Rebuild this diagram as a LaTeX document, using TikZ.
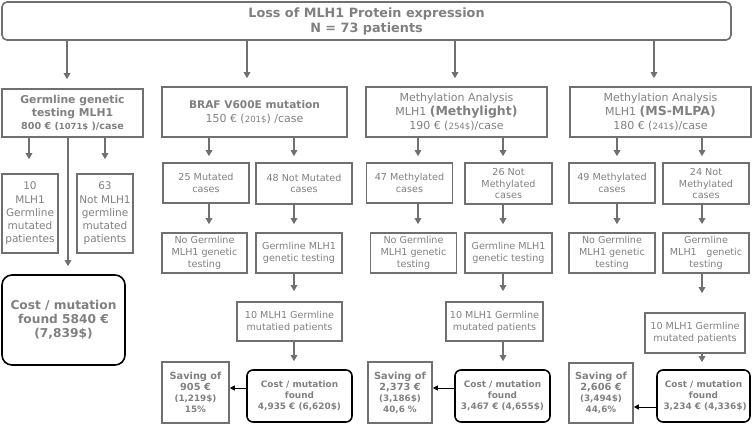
\documentclass[tikz,border=0pt]{standalone}
\usepackage{fontspec}
\setmainfont{DejaVu Sans}
\usetikzlibrary{arrows.meta}
\definecolor{txtc}{RGB}{128,128,128}
\definecolor{bordc}{RGB}{112,112,112}
\tikzset{
  bx/.style={draw=bordc, line width=1.6pt, text=txtc, align=center, inner sep=1pt,
    font=\fontsize{9.6}{11.7}\selectfont},
  hdbx/.style={bx, font=\fontsize{11}{14}\selectfont},
  costbx/.style={draw=black, line width=1.6pt, rounded corners=6pt, text=txtc, align=center,
    inner sep=1pt, font=\bfseries\fontsize{8.9}{11}\selectfont},
  savebx/.style={bx, font=\bfseries\fontsize{9.8}{11}\selectfont},
  arr/.style={draw=bordc, line width=1.6pt, -{Triangle[length=6pt,width=6.5pt]}},
  blkarr/.style={draw=black, line width=1pt, -{Triangle[length=5pt,width=5pt]}},
}
\newcommand{\sm}[1]{{\fontsize{8.6}{10}\selectfont #1}}
\newcommand{\sv}[1]{{\fontsize{8.8}{9}\selectfont #1}}
\begin{document}
\begin{tikzpicture}[x=1pt,y=-1pt]
\useasboundingbox (0,0) rectangle (753,424);
% top
\node[bx, rounded corners=5pt, minimum width=729pt, minimum height=38pt,
  font=\bfseries\fontsize{12.8}{15}\selectfont] (top) at (366.5,21)
  {Loss of MLH1 Protein expression\\N = 73 patients};
% level 2
\node[bx, minimum width=141pt, minimum height=48pt, font=\bfseries\fontsize{10.8}{12.8}\selectfont] (g) at (72.5,113)
  {Germline genetic\\testing MLH1\\{\fontsize{9.6}{12}\selectfont 800 € ({\fontsize{8.4}{10}\selectfont 1071\$} )/case}};
\node[hdbx, minimum width=185pt, minimum height=50pt] (braf) at (254.5,112)
  {\textbf{\fontsize{10.6}{15}\selectfont BRAF V600E mutation}\\150 € (\sm{201\$}) /case};
\node[hdbx, minimum width=181pt, minimum height=50pt] (meth) at (456.5,112)
  {Methylation Analysis\\MLH1 \textbf{\fontsize{12.5}{14}\selectfont(Methylight)}\\190 € (\sm{254\$})/case};
\node[hdbx, minimum width=181pt, minimum height=50pt] (mlpa) at (660.5,112)
  {Methylation Analysis\\MLH1 \textbf{\fontsize{12.5}{14}\selectfont(MS-MLPA)}\\180 € (\sm{241\$})/case};
% germline column
\node[bx, minimum width=56pt, minimum height=79pt, font=\fontsize{10.5}{13.3}\selectfont] (g1) at (30,213.5)
  {10\\MLH1\\Germline\\mutated\\patientes};
\node[bx, minimum width=56pt, minimum height=79pt, font=\fontsize{10.5}{13.3}\selectfont] (g2) at (105,213.5)
  {63\\Not MLH1\\germline\\mutated\\patients};
\node[costbx, rounded corners=10pt, minimum width=123pt, minimum height=90pt,
  font=\bfseries\fontsize{12.2}{14}\selectfont] (gcost) at (63.5,320)
  {Cost / mutation\\found 5840 €\\(7,839\$)};
% BRAF column
\node[bx, minimum width=86pt, minimum height=40pt] (b1) at (206,183) {25 Mutated\\cases};
\node[bx, minimum width=96pt, minimum height=41pt] (b2) at (304,183.5) {48 Not Mutated\\cases};
\node[bx, minimum width=85pt, minimum height=40pt] (b3) at (204.5,253) {No Germline\\MLH1 genetic\\testing};
\node[bx, minimum width=86pt, minimum height=40pt] (b4) at (299,253) {Germline MLH1\\genetic testing};
\node[bx, minimum width=105pt, minimum height=39pt] (b5) at (289.5,321.5) {10 MLH1 Germline\\mutatied patients};
\node[costbx, minimum width=105pt, minimum height=52pt] (b6) at (299.5,396) {Cost / mutation\\found\\4,935 € (6,620\$)};
\node[savebx, minimum width=67pt, minimum height=61pt] (b7) at (195.5,392.5) {Saving of\\905 €\\\sv{(1,219\$)}\\\sv{15\%}};
% Methylight column
\node[bx, minimum width=86pt, minimum height=40pt] (m1) at (409.5,183) {47 Methylated\\cases};
\node[bx, minimum width=87pt, minimum height=41pt] (m2) at (508.5,183.5) {26 Not\\Methylated\\cases};
\node[bx, minimum width=86pt, minimum height=40pt] (m3) at (413.5,253) {No Germline\\MLH1 genetic\\testing};
\node[bx, minimum width=87pt, minimum height=40pt] (m4) at (508.5,253) {Germline MLH1\\genetic testing};
\node[bx, minimum width=97pt, minimum height=39pt] (m5) at (494.5,321.5) {10 MLH1 Germline\\mutated patients};
\node[costbx, minimum width=95pt, minimum height=52pt] (m6) at (502.5,396) {Cost / mutation\\found\\3,467 € (4,655\$)};
\node[savebx, minimum width=64pt, minimum height=61pt] (m7) at (400,392.5) {Saving of\\2,373 €\\\sv{(3,186\$)}\\\sv{40,6 \%}};
% MS-MLPA column
\node[bx, minimum width=86pt, minimum height=40pt] (p1) at (612,183) {49 Methylated\\cases};
\node[bx, minimum width=86pt, minimum height=41pt] (p2) at (706,183.5) {24 Not\\Methylated\\cases};
\node[bx, minimum width=86pt, minimum height=40pt] (p3) at (612,253) {No Germline\\MLH1 genetic\\testing};
\node[bx, minimum width=86pt, minimum height=40pt] (p4) at (706,253) {Germline\\MLH1\quad genetic\\testing};
\node[bx, minimum width=100pt, minimum height=40pt] (p5) at (695,333) {10 MLH1 Germline\\mutated patients};
\node[costbx, minimum width=93pt, minimum height=52pt] (p6) at (703.5,396) {Cost / mutation\\found\\\ 3,234 € (4,336\$)};
\node[savebx, minimum width=64pt, minimum height=60pt] (p7) at (601,393) {Saving of\\2,606 €\\\sv{(3,494\$)}\\\sv{44,6\%}};
% arrows from top
\draw[arr, shorten >=9pt] (top.south -| 67,0) -- (g.north -| 67,0);
\draw[arr, shorten >=8pt] (top.south -| 247,0) -- (braf.north -| 247,0);
\draw[arr, shorten >=8pt] (top.south -| 455,0) -- (meth.north -| 455,0);
\draw[arr, shorten >=8pt] (top.south -| 654,0) -- (mlpa.north -| 654,0);
% germline
\draw[arr, shorten >=14pt] (g.south -| 29,0) -- (g1.north -| 29,0);
\draw[arr, shorten >=14pt] (g.south -| 105,0) -- (g2.north -| 105,0);
\draw[arr, shorten >=8pt] (g.south -| 68,0) -- (gcost.north -| 68,0);
% BRAF
\draw[arr, shorten >=6pt] (braf.south -| 209,0) -- (b1.north -| 209,0);
\draw[arr, shorten >=6pt] (braf.south -| 294,0) -- (b2.north -| 294,0);
\draw[arr, shorten >=8pt] (b1.south -| 209,0) -- (b3.north -| 209,0);
\draw[arr, shorten >=8pt] (b2.south -| 294,0) -- (b4.north -| 294,0);
\draw[arr, shorten >=10pt] (b4.south -| 294,0) -- (b5.north -| 294,0);
\draw[arr, shorten >=8pt] (b5.south -| 294,0) -- (b6.north -| 294,0);
\draw[blkarr] (b6.west |- 0,388) -- (b7.east |- 0,388);
% Methylight
\draw[arr, shorten >=6pt] (meth.south -| 418,0) -- (m1.north -| 418,0);
\draw[arr, shorten >=6pt] (meth.south -| 503,0) -- (m2.north -| 503,0);
\draw[arr, shorten >=8pt] (m1.south -| 418,0) -- (m3.north -| 418,0);
\draw[arr, shorten >=8pt] (m2.south -| 503,0) -- (m4.north -| 503,0);
\draw[arr, shorten >=10pt] (m4.south -| 503,0) -- (m5.north -| 503,0);
\draw[arr, shorten >=8pt] (m5.south -| 503,0) -- (m6.north -| 503,0);
\draw[blkarr] (m6.west |- 0,388) -- (m7.east |- 0,388);
% MS-MLPA
\draw[arr, shorten >=6pt] (mlpa.south -| 617,0) -- (p1.north -| 617,0);
\draw[arr, shorten >=6pt] (mlpa.south -| 702,0) -- (p2.north -| 702,0);
\draw[arr, shorten >=8pt] (p1.south -| 617,0) -- (p3.north -| 617,0);
\draw[arr, shorten >=8pt] (p2.south -| 702,0) -- (p4.north -| 702,0);
\draw[arr, shorten >=19pt] (p4.south -| 702,0) -- (p5.north -| 702,0);
\draw[arr, shorten >=7pt] (p5.south -| 702,0) -- (p6.north -| 702,0);
\draw[blkarr] (p6.west |- 0,407) -- (p7.east |- 0,407);
\end{tikzpicture}
\end{document}
